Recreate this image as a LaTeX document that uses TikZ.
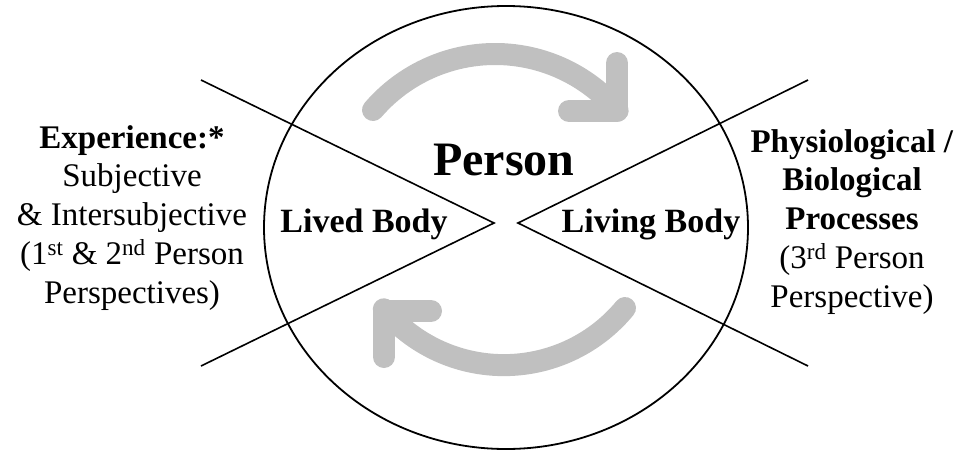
\documentclass[tikz,border=0pt]{standalone}
\usepackage{fontspec}
\setmainfont{Liberation Serif}
\definecolor{arrowgray}{RGB}{192,192,192}
\begin{document}
\begin{tikzpicture}[x=1pt, y=-1pt, line width=1.6pt,
  flow/.style={draw=arrowgray, line width=22pt, line cap=round, line join=round},
  sidetext/.style={align=center, anchor=base, inner sep=0pt, font=\fontsize{33}{38.7}\selectfont},
  bodytext/.style={anchor=base, inner sep=0pt, font=\fontsize{34}{40}\selectfont\bfseries}]
  \useasboundingbox (0,0) rectangle (964,450);

  % the person
  \draw[line width=1.8pt] (506,227.5) ellipse [x radius=242, y radius=221.5];

  % lived side and living side
  \coordinate (livedtip) at (494,223);
  \coordinate (livingtip) at (518,223);
  \draw (201,80) -- (livedtip) -- (201,366);
  \draw (808,80) -- (livingtip) -- (808,366);

  % turning arrows
  \coordinate (toptip) at (617,111);
  \coordinate (bottip) at (384,311);
  \draw[flow] (373,110) arc[start angle=-139.3, end angle=-40.4, radius=161];
  \draw[flow] (617,63) -- (toptip) -- (569,111);
  \draw[flow] (625,308) arc[start angle=39.5, end angle=139.9, radius=157];
  \draw[flow] (384,357) -- (bottip) -- (431,311);

  % labels (base = last line)
  \node[anchor=base, inner sep=0pt, font=\fontsize{48}{56}\selectfont\bfseries] (person) at (504,175) {Person};
  \node[bodytext] (lived) at (364,232) {Lived Body};
  \node[bodytext] (living) at (651,232) {Living Body};
  \node[sidetext] (experience) at (132,303) {\textbf{Experience:*}\\Subjective\\\& Intersubjective\\(1\textsuperscript{st} \& 2\textsuperscript{nd} Person\\Perspectives)};
  \node[sidetext] (physio) at (852,307) {\textbf{Physiological /}\\\textbf{Biological}\\\textbf{Processes}\\(3\textsuperscript{rd} Person\\Perspective)};
\end{tikzpicture}
\end{document}
